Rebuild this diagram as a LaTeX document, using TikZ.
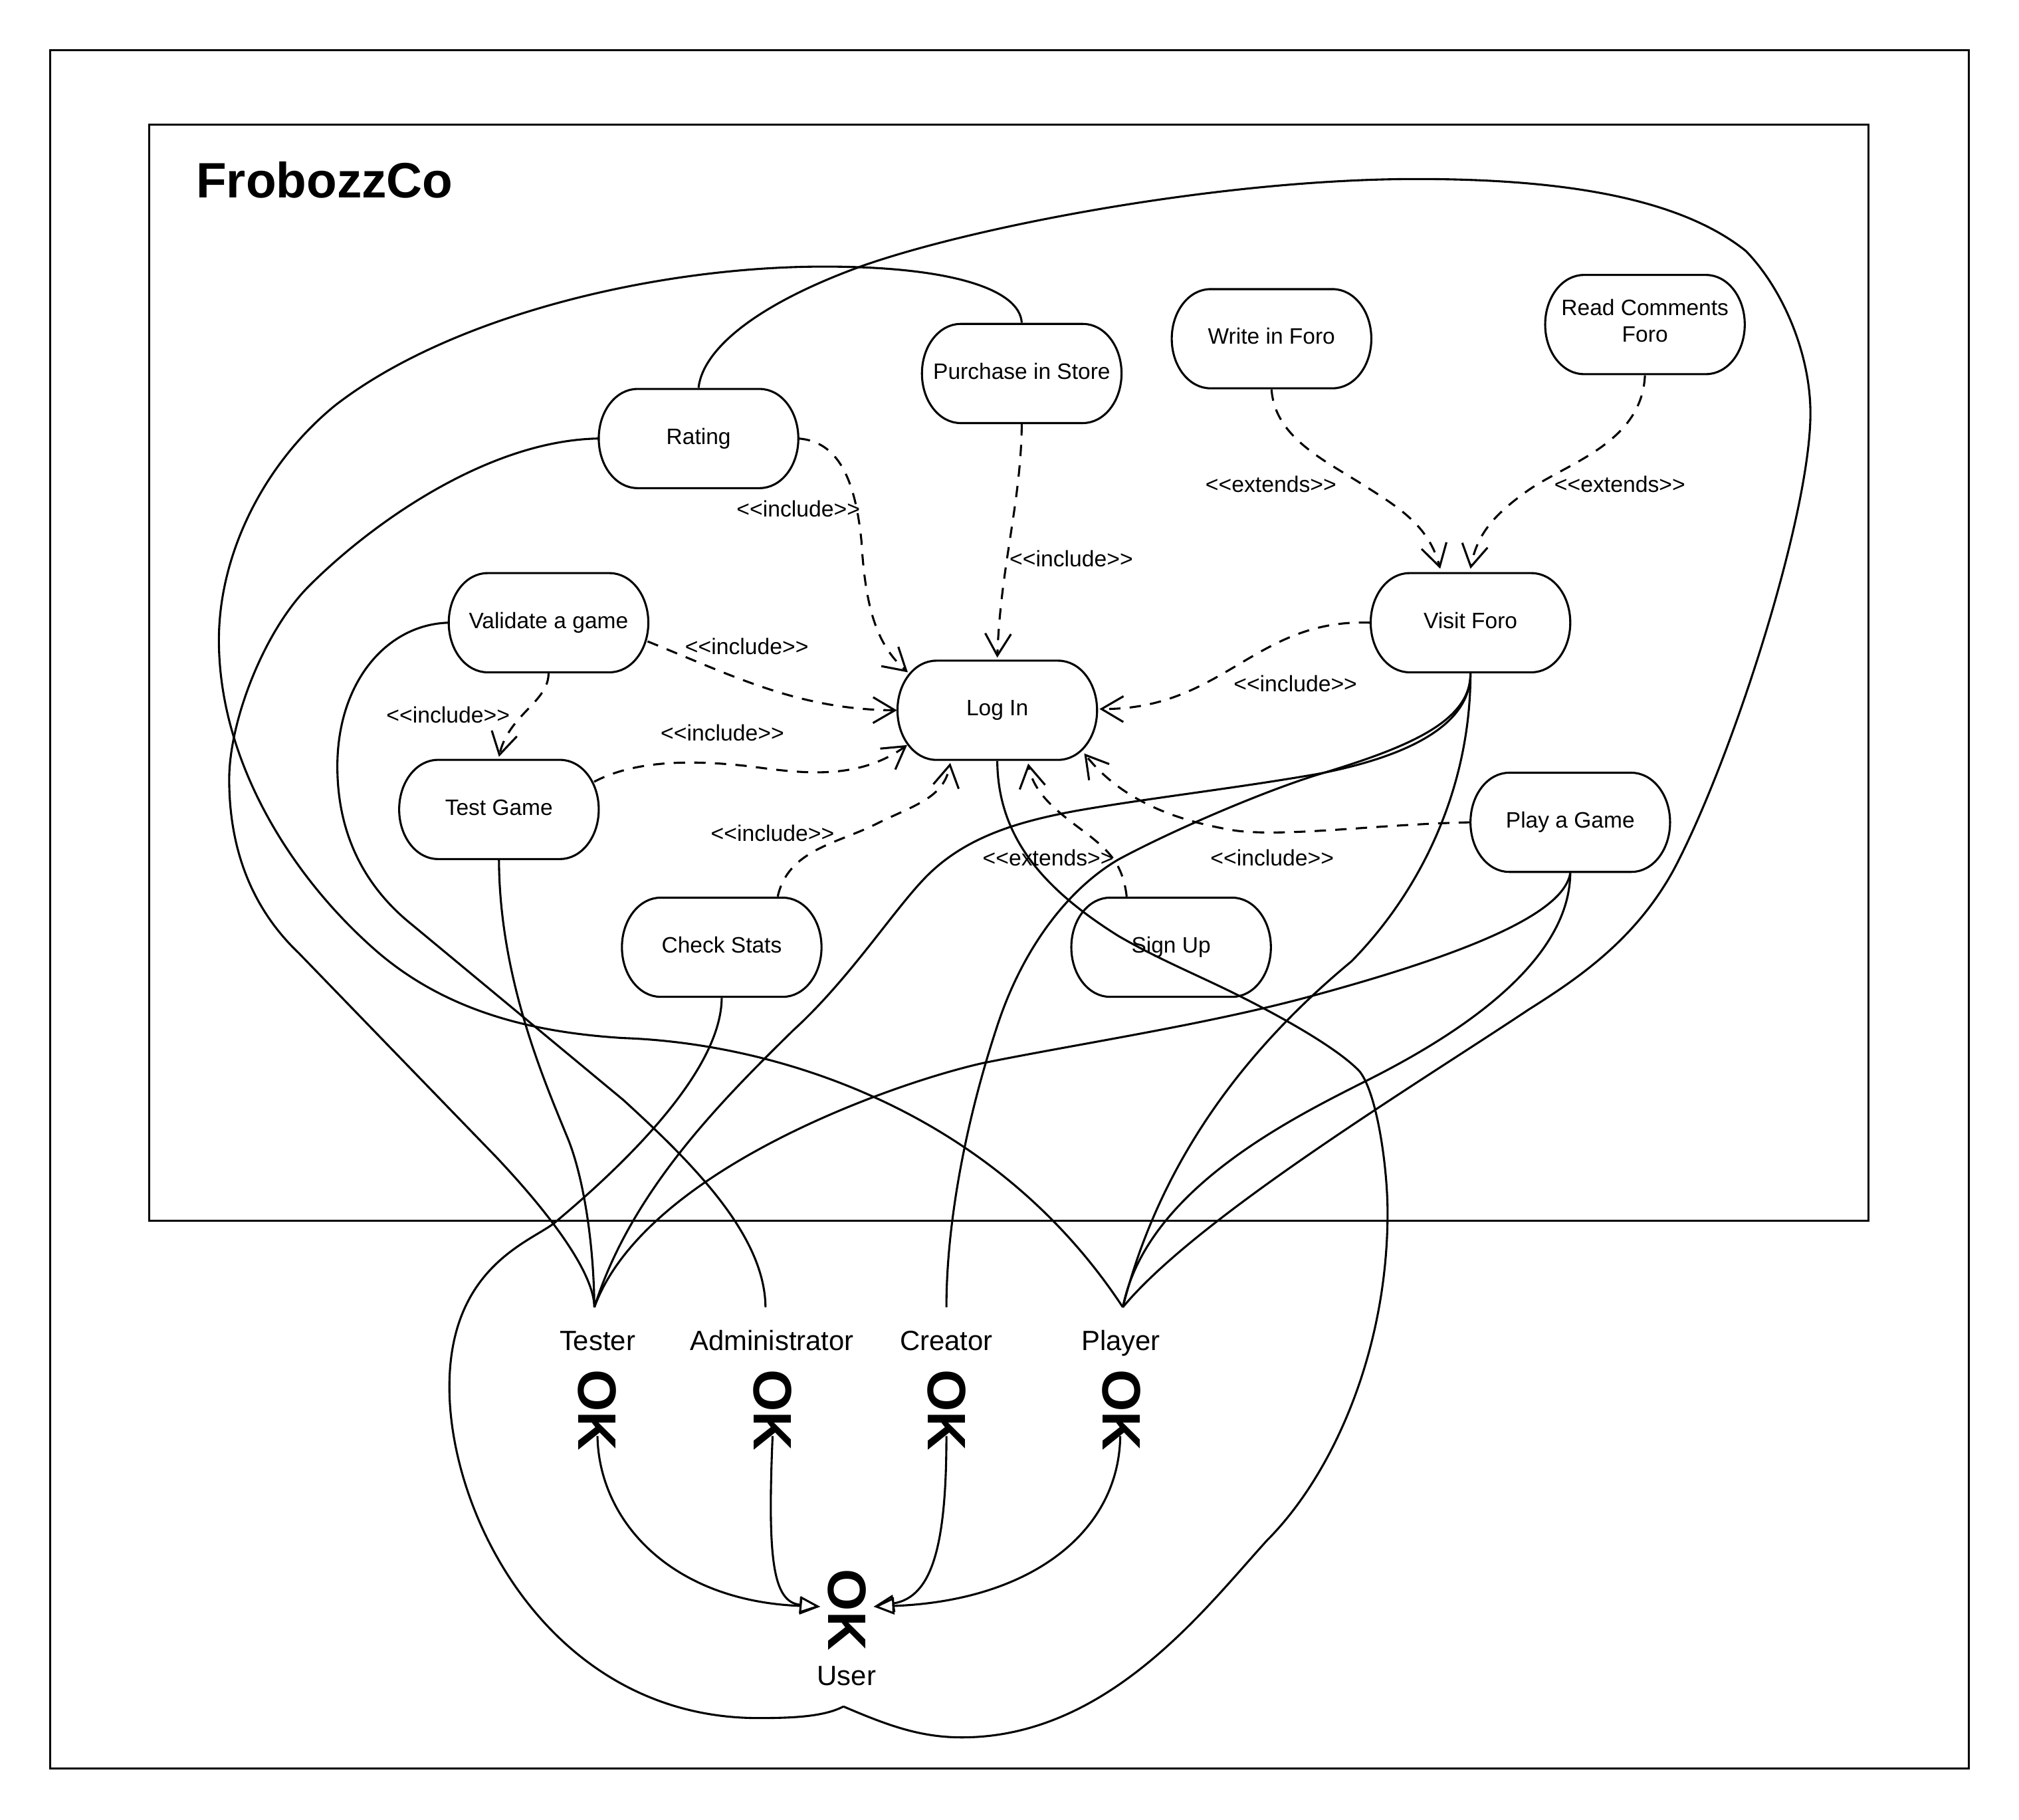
\documentclass[tikz,border=0pt]{standalone}
\usepackage{fontspec}
\setmainfont{Liberation Sans}
\usetikzlibrary{arrows.meta,calc}
\tikzset{
  frame/.style={draw=black,line width=0.8pt},
  ucbox/.style={minimum width=77.5pt,minimum height=39pt,inner sep=0pt,align=center,text height=6.5pt,text depth=2.2pt,font=\fontsize{8.65}{10.25}\selectfont},
  ucline/.style={draw=black,line width=0.8pt},
  assoc/.style={draw=black,line width=0.8pt},
  dep/.style={draw=black,line width=0.8pt,dash pattern=on 4.4pt off 3.6pt,-{Straight Barb[length=8.5pt,width=10pt,line width=0.8pt]}},
  gen/.style={draw=black,line width=0.8pt,-{Triangle[open,fill=white,length=8pt,width=6.6pt,line width=0.8pt]}},
  lab/.style={inner sep=0pt,font=\fontsize{8.7}{10}\selectfont},
  actorname/.style={inner sep=0pt,text height=8pt,text depth=2.3pt,font=\fontsize{10.8}{12}\selectfont},
  actoricon/.style={inner sep=0pt,rotate=-90,font=\fontsize{21}{21}\bfseries\selectfont},
}
\newcommand{\ucnode}[4][]{%
  \node[ucbox,#1] (#2) at (#3) {#4};
  \draw[ucline,shift={(#2.center)}] (-47.5,-38.5) -- (47.5,-38.5)
    .. controls (64,-38.5) and (77.5,-21.5) .. (77.5,0)
    .. controls (77.5,21.5) and (64,38.5) .. (47.5,38.5)
    -- (-47.5,38.5)
    .. controls (-64,38.5) and (-77.5,21.5) .. (-77.5,0)
    .. controls (-77.5,-21.5) and (-64,-38.5) .. (-47.5,-38.5) -- cycle;
}
\begin{document}
\begin{tikzpicture}[x=0.5pt,y=-0.5pt]
\useasboundingbox (0,0) rectangle (1568,1413);
\fill[white] (0,0) rectangle (1568,1413);
\draw[frame] (39,39) rectangle (1529,1373);
\draw[frame] (116,97) rectangle (1451,948);
\node[anchor=west,inner sep=0pt,font=\fontsize{19.3}{22}\bfseries\selectfont] (title) at (152,140) {FrobozzCo};

\ucnode{rating}{542.5,340.5}{Rating}
\ucnode{purchase}{793.5,290}{Purchase in Store}
\ucnode{write}{987.5,263}{Write in Foro}
\ucnode[text height=15.5pt]{read}{1277.5,252}{Read Comments\\Foro}
\ucnode{validate}{426,483.5}{Validate a game}
\ucnode{visit}{1142,483.5}{Visit Foro}
\ucnode{login}{774.5,551.5}{Log In}
\ucnode{test}{387.5,628.5}{Test Game}
\ucnode{play}{1219.5,638.5}{Play a Game}
\ucnode{check}{560.5,735.5}{Check Stats}
\ucnode{signup}{909.5,735.5}{Sign Up}

\node[actorname] (tester) at (464,1043) {Tester};
\node[actorname] (admin) at (599.5,1043) {Administrator};
\node[actorname] (creator) at (735,1043) {Creator};
\node[actorname] (player) at (870.5,1043) {Player};
\node[actorname] (user) at (657.5,1303) {User};
\node[actoricon] (testerI) at (464,1095) {OK};
\node[actoricon] (adminI) at (600,1095) {OK};
\node[actoricon] (creatorI) at (735,1095) {OK};
\node[actoricon] (playerI) at (871,1095) {OK};
\node[actoricon] (userI) at (658,1250) {OK};

\coordinate (testerT) at (461.6,1015);
\coordinate (adminT) at (594.5,1015);
\coordinate (creatorT) at (735,1015);
\coordinate (playerT) at (872,1015);
\coordinate (userB) at (655,1325);

% solid associations
\draw[assoc] (rating.north) .. controls (546,270) and (590,235) .. (671,206)
  .. controls (760,175) and (950,139) .. (1100,139)
  .. controls (1200,139) and (1300,150) .. (1356,195)
  .. controls (1385,225) and (1406,275) .. (1406,321)
  .. controls (1406,400) and (1345,590) .. (1300,675)
  .. controls (1270,730) and (1225,760) .. (1187,784)
  .. controls (1100,842) and (930,945) .. (playerT);
\draw[assoc] (purchase.north) .. controls (792,225) and (740,207) .. (640,207)
  .. controls (510,207) and (350,245) .. (260,315)
  .. controls (205,360) and (170,430) .. (170,497)
  .. controls (170,590) and (225,680) .. (293,739)
  .. controls (350,788) and (420,802) .. (484,806)
  .. controls (600,810) and (770,860) .. (playerT);
\draw[assoc] (rating.west) .. controls (380,342) and (290,405) .. (240,455)
  .. controls (205,490) and (178,560) .. (178,605)
  .. controls (178,650) and (190,700) .. (232,740)
  -- (385,898)
  .. controls (420,935) and (461,985) .. (testerT);
\draw[assoc] (validate.west) .. controls (300,485) and (262,530) .. (262,595)
  .. controls (262,650) and (285,690) .. (320,718)
  -- (484,854)
  .. controls (540,905) and (594,960) .. (adminT);
\draw[assoc] (test.south) .. controls (388,760) and (423,840) .. (441,884)
  .. controls (452,911) and (461,960) .. (testerT);
\draw[assoc] (check.south) .. controls (560,830) and (490,900) .. (430,950)
  .. controls (410,965) and (349,985) .. (349,1077)
  .. controls (349,1180) and (430,1334) .. (589,1334)
  .. controls (615,1334) and (640,1333) .. (userB);
\draw[assoc] (login.south) .. controls (775,650) and (810,690) .. (868.5,726.7)
  .. controls (900,745) and (930,757) .. (962,773)
  .. controls (1000,792) and (1040,815) .. (1056,832)
  .. controls (1070,850) and (1078,910) .. (1077.6,944)
  .. controls (1077,1050) and (1035,1145) .. (984,1196)
  .. controls (935,1250) and (860,1349) .. (747,1349)
  .. controls (715,1349) and (690,1340) .. (userB);
\draw[assoc] (visit.south) .. controls (1142,570) and (1075,591) .. (1023,601)
  .. controls (960,612) and (890,620) .. (835.6,629.6)
  .. controls (790,638) and (750,650) .. (720,680)
  .. controls (695,705) and (660,760) .. (616,800)
  .. controls (560,855) and (490,925) .. (testerT);
\draw[assoc] (visit.south) .. controls (1142,560) and (1095,580) .. (1023,601.6)
  .. controls (980,615) and (910,645) .. (868.5,667.4)
  .. controls (830,690) and (795,735) .. (775,795)
  .. controls (750,870) and (735,950) .. (creatorT);
\draw[assoc] (visit.south) .. controls (1142,610) and (1105,690) .. (1049.6,746.4)
  .. controls (985,800) and (905,885) .. (playerT);
\draw[assoc] (play.south) .. controls (1219,730) and (1170,785) .. (1059.5,840)
  .. controls (1000,870) and (890,925) .. (playerT);
\draw[assoc] (play.south) .. controls (1215,705) and (1160,735) .. (1020,773)
  .. controls (940,795) and (840,810) .. (763,825.5)
  .. controls (690,842) and (500,910) .. (testerT);

% dashed dependencies
\coordinate (loginNW) at ($(login.center)+(-69.5,-29.5)$);
\coordinate (loginSW) at ($(login.center)+(-70,27)$);
\coordinate (loginSE) at ($(login.center)+(67.5,33.5)$);
\draw[dep] (rating.east) .. controls (650,343) and (664,370) .. (669,420) .. controls (672,470) and (680,500) .. (loginNW);
\draw[dep] (purchase.south) .. controls (793,390) and (777,440) .. ($(login.north)+(0,-1.5)$);
\draw[dep] (write.south) .. controls (990,340) and (1030,358) .. (1058.6,376.5) .. controls (1090,396) and (1110,410) .. ($(visit.north)+(-23.5,-2.5)$);
\draw[dep] (read.south) .. controls (1275,345) and (1215,360) .. (1185,382) .. controls (1160,400) and (1147,415) .. ($(visit.north)+(0,-2.5)$);
\draw[dep] (visit.west) .. controls (975,480) and (950,551) .. ($(login.east)+(1.5,-1)$);
\draw[dep] ($(validate.east)+(-1,14.5)$) .. controls (570,525) and (620,551) .. (login.west);
\draw[dep] (validate.south) .. controls (426,545) and (395,555) .. ($(test.north)+(0,-1.5)$);
\draw[dep] ($(test.east)+(-4,-21.5)$) .. controls (490,592) and (530,589) .. (582,595) .. controls (620,600) and (665,607) .. (loginSW);
\draw[dep] ($(check.north)+(43.5,0)$) .. controls (612,660) and (650,655) .. (680,640) .. controls (710,625) and (733,620) .. ($(login.south)+(-36.5,1.5)$);
\draw[dep] ($(signup.north)+(-34.5,0)$) .. controls (872,670) and (860,660) .. (845,648) .. controls (825,633) and (803,618) .. ($(login.south)+(24,2)$);
\draw[dep] (play.west) .. controls (1070,640) and (1000,650) .. (960,645) .. controls (910,637) and (870,620) .. (loginSE);

% generalisations
\draw[gen] ($(testerI.center)+(0,20)$) .. controls (465,1180) and (520,1243) .. ($(userI.center)+(-21,-2.5)$);
\draw[gen] ($(adminI.center)+(0,20)$) .. controls (596,1210) and (600,1244) .. ($(userI.center)+(-21,-2.5)$);
\draw[gen] ($(creatorI.center)+(0,20)$) .. controls (735,1200) and (724,1240) .. ($(userI.center)+(20.5,-2.5)$);
\draw[gen] ($(playerI.center)+(-1,20)$) .. controls (869,1190) and (800,1243) .. ($(userI.center)+(20.5,-2.5)$);

% labels
\node[lab] (l1) at (620,395) {<{}<include>{}>};
\node[lab] (l2) at (832,434) {<{}<include>{}>};
\node[lab] (l3) at (580,502) {<{}<include>{}>};
\node[lab] (l4) at (1006,531) {<{}<include>{}>};
\node[lab] (l5) at (348,555) {<{}<include>{}>};
\node[lab] (l6) at (561,569) {<{}<include>{}>};
\node[lab] (l7) at (600,647) {<{}<include>{}>};
\node[lab] (l8) at (988,666) {<{}<include>{}>};
\node[lab] (l9) at (814,666) {<{}<extends>{}>};
\node[lab] (l10) at (987,376) {<{}<extends>{}>};
\node[lab] (l11) at (1258,376) {<{}<extends>{}>};
\end{tikzpicture}
\end{document}
